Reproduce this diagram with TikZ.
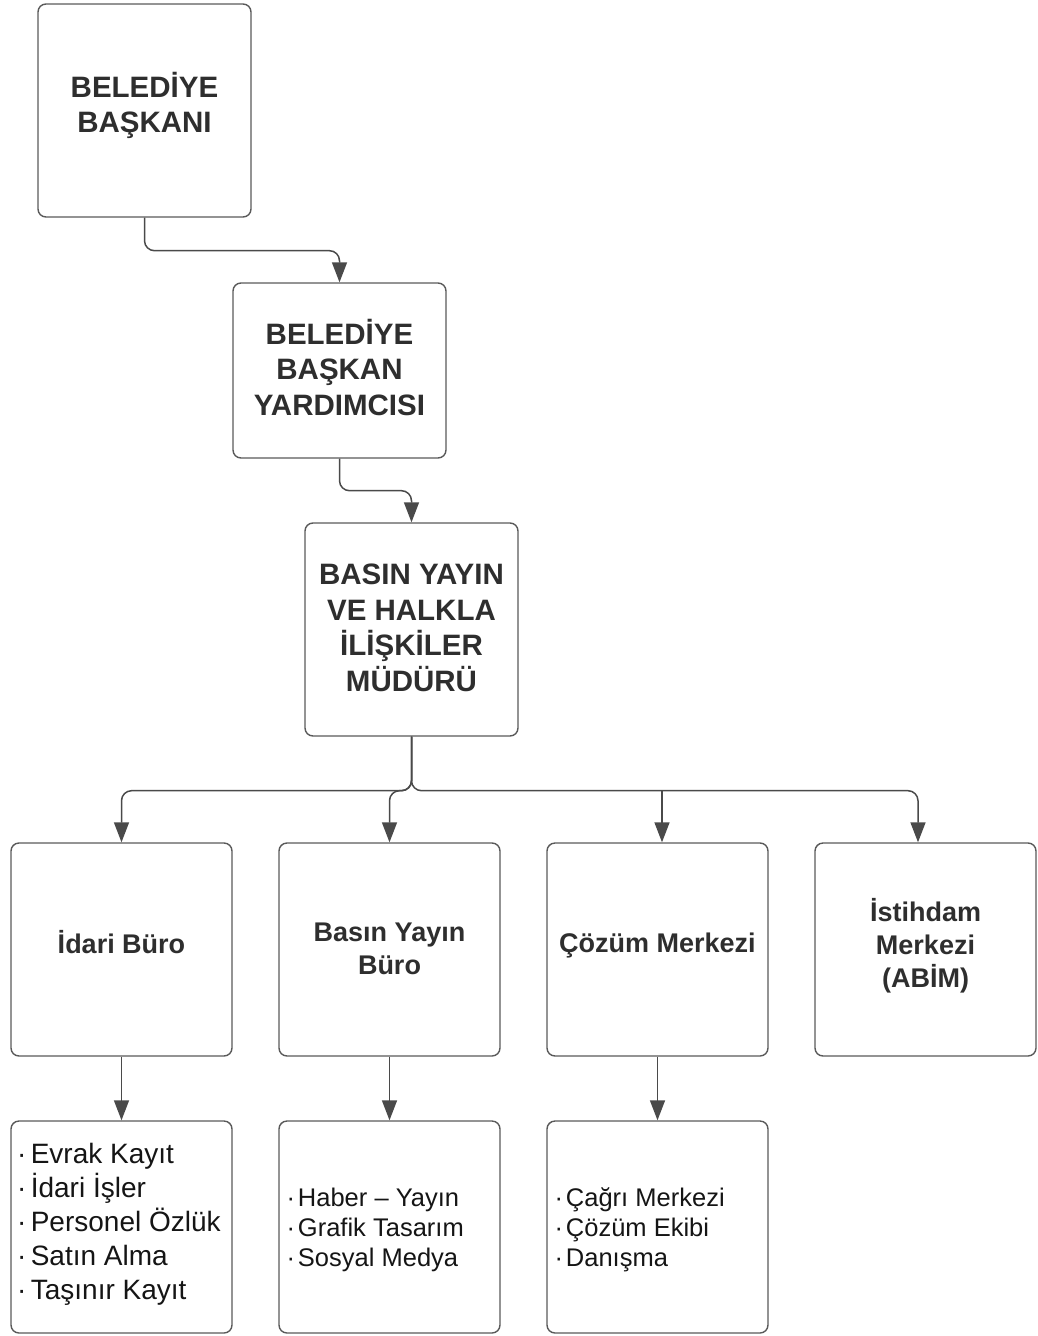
\documentclass[tikz,border=0pt]{standalone}
\usepackage{fontspec}
\setmainfont{Liberation Sans}
\usetikzlibrary{arrows.meta,calc}
\definecolor{boxline}{HTML}{5A5A5A}
\definecolor{connline}{HTML}{4A4A4A}
\definecolor{headtxt}{HTML}{2E2E2E}
\definecolor{listtxt}{HTML}{151515}
\tikzset{
  box/.style={draw=boxline, line width=1.4pt, rounded corners=8pt, fill=white, inner sep=0pt},
  bigbox/.style={box, minimum width=213pt, minimum height=213pt},
  midbox/.style={box, minimum width=213pt, minimum height=175pt},
  unitbox/.style={box, minimum width=221pt, minimum height=213pt},
  listbox/.style={box, minimum width=221pt, minimum height=212pt},
  headtext/.style={inner sep=0pt, align=center, text=headtxt, font=\fontsize{29.5}{35.5}\selectfont\bfseries},
  unittext/.style={inner sep=0pt, align=center, text=headtxt, font=\fontsize{27}{33}\selectfont\bfseries},
  listtext/.style={inner sep=0pt, align=left, text=listtxt, anchor=west},
  conn/.style={draw=connline, line width=1.5pt, rounded corners=10pt},
  arr/.style={conn, -{Triangle[length=20pt,width=15pt]}, fill=none},
}
\begin{document}
\begin{tikzpicture}[x=1pt,y=-1pt]
\useasboundingbox (0,0) rectangle (1038,1336);
\node[bigbox] (b1) at (144.5,110.5) {};
\node[midbox] (b2) at (339.5,370.5) {};
\node[bigbox] (b3) at (411.5,629.5) {};
\node[unitbox] (c1) at (121.5,949.5) {};
\node[unitbox] (c2) at (389.5,949.5) {};
\node[unitbox] (c3) at (657.5,949.5) {};
\node[unitbox] (c4) at (925.5,949.5) {};
\node[listbox] (d1) at (121.5,1227) {};
\node[listbox] (d2) at (389.5,1227) {};
\node[listbox] (d3) at (657.5,1227) {};

\node[headtext] (b1t) at ($(b1)+(0,-5)$) {BELEDİYE\\BAŞKANI};
\node[headtext] (b2t) at ($(b2)+(0,-3)$) {BELEDİYE\\BAŞKAN\\YARDIMCISI};
\node[headtext] (b3t) at ($(b3)+(0,-1.5)$) {BASIN YAYIN\\VE HALKLA\\İLİŞKİLER\\MÜDÜRÜ};

\node[unittext] (c1t) at ($(c1)+(0,-7.5)$) {İdari Büro};
\node[unittext] (c2t) at ($(c2)+(0,-1)$) {Basın Yayın\\Büro};
\node[unittext] (c3t) at ($(c3)+(0,-4)$) {Çözüm Merkezi};
\node[unittext] (c4t) at ($(c4)+(0,-4)$) {İstihdam\\Merkezi\\(ABİM)};

\node[listtext, font=\fontsize{28}{34}\selectfont] (d1t) at ($(d1.west)+(6.5,-3)$) {·\hspace{4.5pt}Evrak Kayıt\\·\hspace{4.5pt}İdari İşler\\·\hspace{4.5pt}Personel Özlük\\·\hspace{4.5pt}Satın Alma\\·\hspace{4.5pt}Taşınır Kayıt};
\node[listtext, font=\fontsize{25.5}{30}\selectfont] (d2t) at ($(d2.west)+(8,2.5)$) {·\hspace{3pt}Haber – Yayın\\·\hspace{3pt}Grafik Tasarım\\·\hspace{3pt}Sosyal Medya};
\node[listtext, font=\fontsize{25.5}{30}\selectfont] (d3t) at ($(d3.west)+(8,2.5)$) {·\hspace{3pt}Çağrı Merkezi\\·\hspace{3pt}Çözüm Ekibi\\·\hspace{3pt}Danışma};

\coordinate (c3in) at ($(c3.north)+(4.5,0)$);
\coordinate (c4in) at ($(c4.north)+(-7.5,0)$);

\draw[arr] (b1.south) -- ++(0,33) -| (b2.north);
\draw[arr] (b2.south) -- ++(0,32) -| (b3.north);
\draw[arr] (b3.south) -- ++(0,54) -| (c1.north);
\draw[arr] (b3.south) -- ++(0,54) -| (c2.north);
\draw[arr] (b3.south) -- ++(0,54) -| (c4in);
\draw[arr, rounded corners=0pt] (c3in |- 0,790) -- (c3in);
\draw[arr] (c1.south) -- (d1.north);
\draw[arr] (c2.south) -- (d2.north);
\draw[arr] (c3.south) -- (d3.north);
\end{tikzpicture}
\end{document}
